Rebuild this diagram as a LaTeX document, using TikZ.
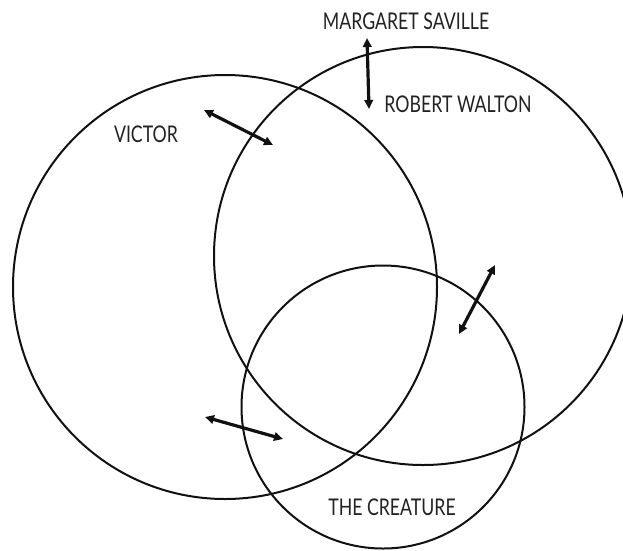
\documentclass[tikz,border=0pt]{standalone}
\usepackage{fontspec}
\usetikzlibrary{arrows.meta}
\newfontfamily\namefont[FakeStretch=0.77]{Lato}
\definecolor{rgink}{HTML}{111111}
\definecolor{rgtext}{HTML}{222222}
\tikzset{
  ring/.style={draw=rgink, circle, line width=2pt, inner sep=0pt},
  castname/.style={font=\namefont\fontsize{23}{25}\selectfont, text=rgtext,
    inner sep=0pt},
  tie/.style={{Triangle[length=9pt,width=8.5pt]}-{Triangle[length=9pt,width=8.5pt]},
    draw=rgink, line width=3.2pt},
}
\begin{document}
\begin{tikzpicture}[x=1pt, y=-1pt]
  \useasboundingbox (0,0) rectangle (623,550);
  % the three circles
  \node[ring, minimum size=424pt] (victor)   at (225,287) {};
  \node[ring, minimum size=418pt] (walton)   at (423,256) {};
  \node[ring, minimum size=283pt] (creature) at (383,407) {};
  % names
  \node[castname] (tvictor)   at (146,134) {VICTOR};
  \node[castname] (twalton)   at (458,104) {ROBERT WALTON};
  \node[castname] (tsaville)  at (406,21)  {MARGARET SAVILLE};
  \node[castname] (tcreature) at (392,507) {THE CREATURE};
  % arrow ends
  \coordinate (vw1) at (204,110);
  \coordinate (vw2) at (273,145);
  \coordinate (sw1) at (367,38);
  \coordinate (sw2) at (369,109);
  \coordinate (wc1) at (495,265);
  \coordinate (wc2) at (459,334);
  \coordinate (vc1) at (205,417);
  \coordinate (vc2) at (283,439);

  \draw[tie] (vw1) -- (vw2);
  \draw[tie] (sw1) -- (sw2);
  \draw[tie] (wc1) -- (wc2);
  \draw[tie] (vc1) -- (vc2);
\end{tikzpicture}
\end{document}
